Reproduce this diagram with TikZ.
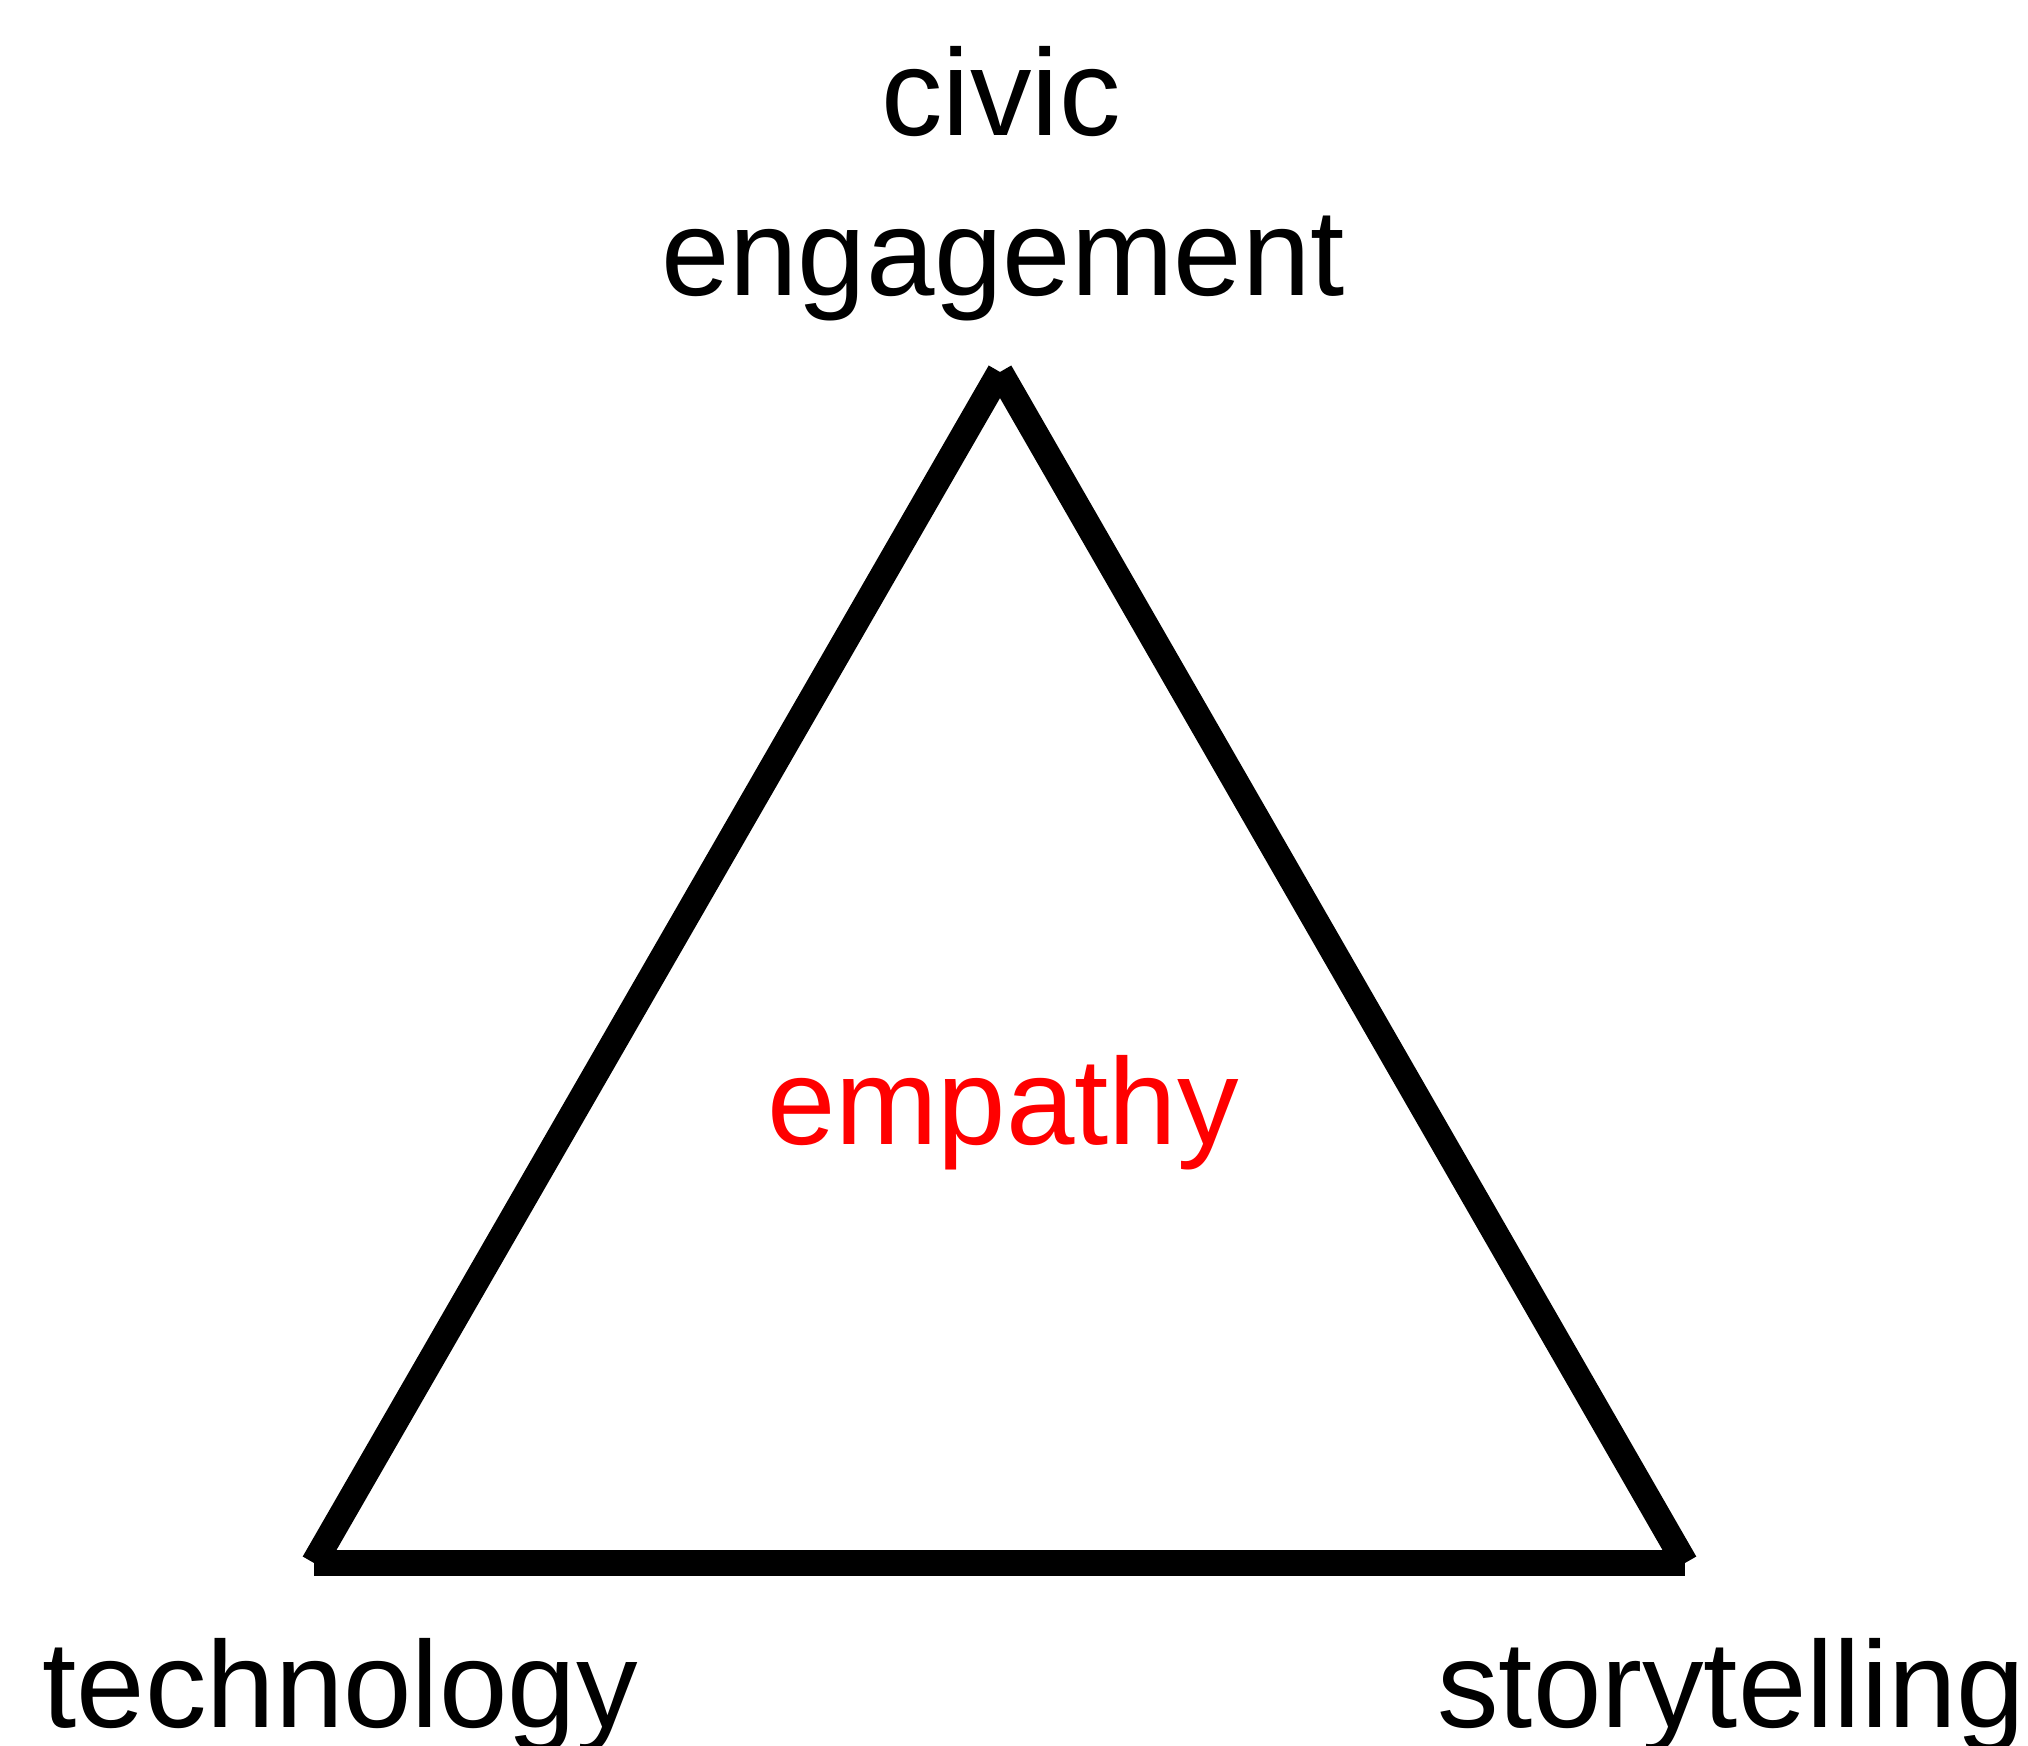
\documentclass[tikz,border=0pt]{standalone}
\usepackage{fontspec}
\setmainfont{Liberation Sans}
\usepackage{xcolor}
\usepackage{tikz}
\definecolor{empred}{RGB}{255,0,0}

\begin{document}
\begin{tikzpicture}[
    edge/.style={black, line width=7.4pt, line cap=butt},
    word/.style={font=\fontsize{35}{42}\selectfont, inner sep=0pt}]
      % Page frame
      \useasboundingbox (0,0) rectangle (20.28,17.46);
      % Corners of the triangle
      \coordinate (top)   at (10.00,13.74);
      \coordinate (left)  at (3.14,1.83);
      \coordinate (right) at (16.85,1.83);
      % Triangle edges, drawn as three separate strokes
      \draw[edge] (left) -- (top);
      \draw[edge] (right) -- (top);
      \draw[edge] (left) -- (right);
      % Corner labels
      \node[word, anchor=base] (civic) at (10.01,16.10) {civic};
      \node[word, anchor=base] (engage) at (10.03,14.50) {engagement};
      \node[word, anchor=base west] (tech) at (0.42,0.18) {technology};
      \node[word, anchor=base east] (story) at (20.26,0.18) {storytelling};
      % Centre label
      \node[word, anchor=base, text=empred] (empathy) at (10.03,6.01) {empathy};
    \end{tikzpicture}
\end{document}
